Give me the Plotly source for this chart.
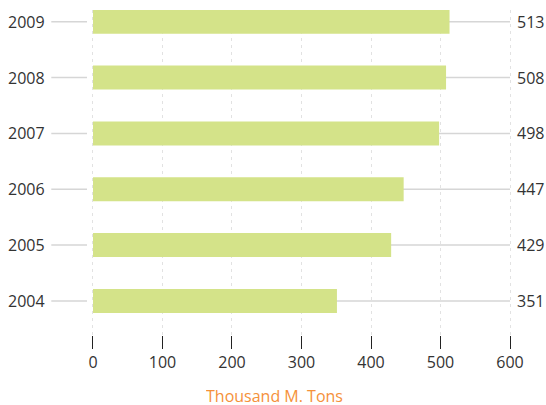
import plotly.graph_objects as go

years = ["2004", "2005", "2006", "2007", "2008", "2009"]
values = [351, 429, 447, 498, 508, 513]
x_ticks = [0, 100, 200, 300, 400, 500, 600]
axis_title = "Thousand M. Tons"

FONT = "Open Sans"
TEXT = "#333333"

fig = go.Figure()
fig.add_trace(go.Bar(
    x=values, y=years, orientation="h",
    marker=dict(color="#d4e389", line=dict(width=0)),
    width=0.43, hoverinfo="skip",
))

shapes = []
annotations = []
for i, (yr, v) in enumerate(zip(years, values)):
    shapes.append(dict(type="line", xref="x", yref="y", x0=-60, x1=-8.6, y0=i, y1=i,
                       line=dict(color="#d6d6d6", width=1.5), layer="below"))
    shapes.append(dict(type="line", xref="x", yref="y", x0=0, x1=x_ticks[-1], y0=i, y1=i,
                       line=dict(color="#d6d6d6", width=1.5), layer="below"))
    annotations.append(dict(x=-66, y=i, xref="x", yref="y", text=yr, showarrow=False,
                            xanchor="right", yanchor="middle",
                            font=dict(family=FONT, size=16, color=TEXT)))
    annotations.append(dict(x=607, y=i, xref="x", yref="y", text=str(v), showarrow=False,
                            xanchor="left", yanchor="middle",
                            font=dict(family=FONT, size=16, color=TEXT)))

plot_h = 405 - 10 - 70
annotations.append(dict(x=0.503, y=(405 - 70 - 396) / plot_h, xref="paper", yref="paper",
                        text=axis_title, showarrow=False, xanchor="center", yanchor="middle",
                        height=16, valign="middle", borderpad=0,
                        font=dict(family=FONT, size=16, color="#f5913a")))

fig.update_layout(
    width=546, height=405,
    margin=dict(l=0, r=0, t=10, b=70),
    plot_bgcolor="white", paper_bgcolor="white",
    showlegend=False,
    shapes=shapes,
    annotations=annotations,
    font=dict(family=FONT, color=TEXT),
    xaxis=dict(
        range=[-133.8, 651.8],
        tickvals=x_ticks,
        ticktext=[str(t) for t in x_ticks],
        showgrid=True, gridcolor="#e2e2e2", gridwidth=1, griddash="3px,4px",
        zeroline=False, showline=False,
        ticks="outside", ticklen=13, tickcolor="#222222", tickwidth=1,
        tickfont=dict(family=FONT, size=16, color=TEXT),
        fixedrange=True,
    ),
    yaxis=dict(
        type="category", categoryorder="array", categoryarray=years,
        range=[-0.61, 5.21],
        showticklabels=False, showgrid=False, zeroline=False, showline=False,
        ticks="", fixedrange=True,
    ),
)

fig.write_html("out.html")
